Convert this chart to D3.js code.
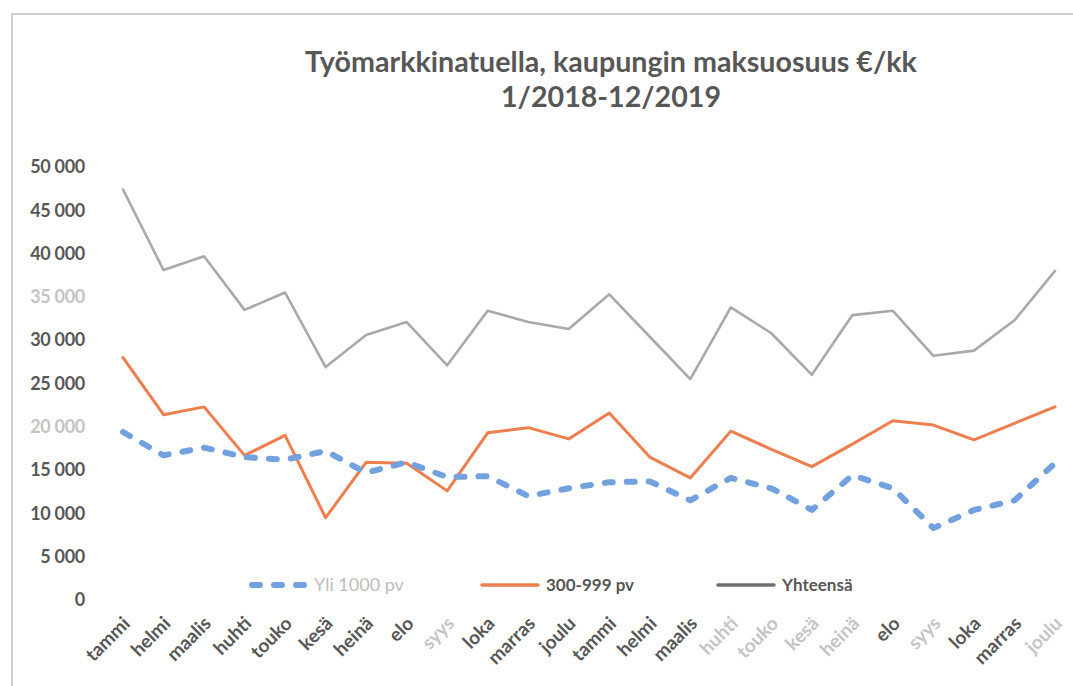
<!DOCTYPE html>
<html><head><meta charset="utf-8">
<script src="https://cdn.jsdelivr.net/npm/d3@7"></script>
<style>body{margin:0;background:#fff}svg{display:block}</style>
</head><body>
<svg id="c" width="1073" height="686"></svg>
<script>
const months = ["tammi","helmi","maalis","huhti","touko","kesä","heinä","elo","syys","loka","marras","joulu",
                "tammi","helmi","maalis","huhti","touko","kesä","heinä","elo","syys","loka","marras","joulu"];
const yli1000 = [19400,16700,17600,16500,16200,17200,14700,15900,14200,14300,12000,12900,
                 13600,13700,11500,14100,12900,10400,14400,12900,8300,10400,11500,15800];
const v300_999 = [28000,21400,22300,16700,19000,9500,15900,15800,12600,19300,19900,18600,
                  21600,16500,14100,19500,17400,15400,18000,20700,20200,18500,20400,22300];
const yhteensa = [47400,38100,39700,33500,35500,26900,30600,32100,27100,33400,32100,31300,
                  35300,30400,25500,33800,30800,26000,32900,33400,28200,28800,32300,38000];
const yTicks = [0,5000,10000,15000,20000,25000,30000,35000,40000,45000,50000];
const seriesNames = ["Yli 1000 pv","300-999 pv","Yhteensä"];
const titleLines = ["Työmarkkinatuella, kaupungin maksuosuus €/kk","1/2018-12/2019"];
const fadedX = new Set([8,15,16,17,18,20,23]);
const fadedY = new Set([20000,35000]);

const svg = d3.select("#c");
const font = "Lato, 'Open Sans', sans-serif";
const textCol = "#575757";

// frame
svg.append("rect").attr("x",12).attr("y",14).attr("width",1080).attr("height",690)
  .attr("fill","none").attr("stroke","#c4c4c4").attr("stroke-width",1.6);

// title
const tt = svg.append("g").selectAll("text").data(titleLines).join("text")
  .attr("x",611).attr("y",(d,i)=>72+i*35).attr("text-anchor","middle")
  .attr("font-family",font).attr("font-weight","bold").attr("font-size",26).attr("fill",textCol).text(d=>d);
const w0 = tt.nodes()[0].getComputedTextLength();
tt.attr("font-size", Math.min(30, 26*612/w0));

const x = d3.scalePoint().domain(d3.range(months.length)).range([123,1055]);
const y = d3.scaleLinear().domain([0,50000]).range([600,167]);

// y axis
const yAxis = svg.append("g").attr("transform","translate(85,0)")
  .call(d3.axisLeft(y).tickValues(yTicks).tickSize(0).tickPadding(0)
    .tickFormat(d=>d3.format(",")(d).replace(/,/g," ")));
yAxis.select(".domain").remove();
yAxis.selectAll("text").attr("font-family",font).attr("font-weight","bold").attr("font-size",18)
  .attr("letter-spacing","-0.3px")
  .attr("fill",d=>fadedY.has(d)?"#c4c4c4":textCol);

// x axis (rotated labels)
const xAxis = svg.append("g").attr("transform","translate(0,620)")
  .call(d3.axisBottom(x).tickSize(0).tickFormat(""));
xAxis.select(".domain").remove();
xAxis.selectAll(".tick").append("text")
  .attr("font-family",font).attr("font-weight","bold").attr("font-size",19)
  .attr("fill",i=>fadedX.has(i)?"#c4c4c4":textCol)
  .attr("text-anchor","end").attr("dy","0.35em")
  .attr("transform","translate(3,0) rotate(-45)").text(i=>months[i]);

const line = d3.line().x((d,i)=>x(i)).y(d=>y(d));
const styles = [
  {data:yli1000,color:"#72a1de",w:6,dash:"8,14",cap:"round"},
  {data:v300_999,color:"#ee7e4e",w:3,dash:null,cap:"round"},
  {data:yhteensa,color:"#a9a9a9",w:2.6,dash:null,cap:"round"}
];
[2,1,0].forEach(k=>{
  const s=styles[k];
  svg.append("path").datum(s.data).attr("d",line).attr("fill","none")
    .attr("stroke",s.color).attr("stroke-width",s.w).attr("stroke-linejoin","round")
    .attr("stroke-linecap",s.cap).attr("stroke-dasharray",s.dash);
});

// legend
const legendX = [252,482,718];
const lg = svg.append("g").attr("transform","translate(0,585)");
seriesNames.forEach((n,k)=>{
  const s=styles[k];
  lg.append("line").attr("x1",legendX[k]).attr("x2",legendX[k]+(k===0?52:56)).attr("y1",0).attr("y2",0)
    .attr("stroke",k===2?"#707070":s.color).attr("stroke-width",k===0?6:3.5)
    .attr("stroke-linecap",s.cap).attr("stroke-dasharray",s.dash);
  lg.append("text").attr("x",legendX[k]+(k===0?62:64)).attr("y",0).attr("dy","0.35em")
    .attr("font-family",font).attr("font-weight",k===0?"normal":"bold").attr("font-size",k===0?18:17)
    .attr("fill",k===0?"#bdbdbd":textCol).text(n);
});
</script>
</body></html>
